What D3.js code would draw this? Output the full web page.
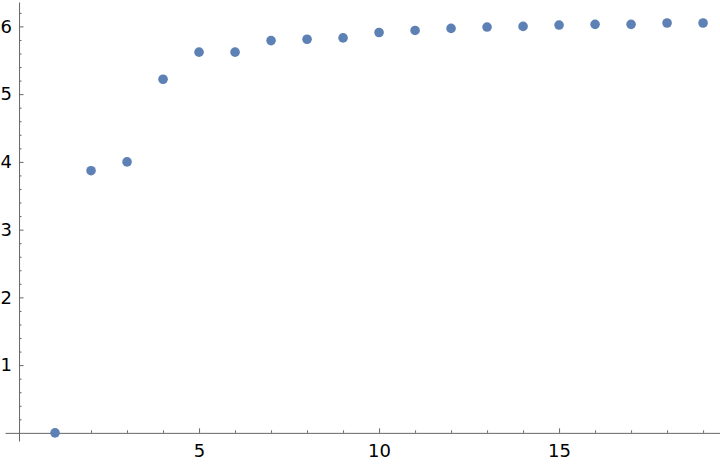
<!DOCTYPE html>
<html>
<head>
<meta charset="utf-8">
<script src="https://d3js.org/d3.v7.min.js"></script>
<style>
  body { margin: 0; background: #fff; }
  .axis text { font-family: "DejaVu Sans", sans-serif; font-size: 18px; fill: #000; }
  .axis path, .axis line { stroke: #666; stroke-width: 1; }
</style>
</head>
<body>
<div id="chart"></div>
<script>
// Data
const xValues = [1, 2, 3, 4, 5, 6, 7, 8, 9, 10, 11, 12, 13, 14, 15, 16, 17, 18, 19]
const yValues = [0, 3.87, 4.00, 5.22, 5.62, 5.62, 5.79, 5.81, 5.83, 5.91, 5.94, 5.97, 5.99, 6.00, 6.02, 6.03, 6.03, 6.05, 6.05]
const xTicks = [5, 10, 15]
const yTicks = [1, 2, 3, 4, 5, 6]

const w = 720
const h = 464

const svg = d3.select("#chart")
    .append("svg")
    .attr("width", w)
    .attr("height", h)

// Scales
const xScale = d3.scaleLinear()
    .domain([-0.39, 19.47])
    .range([5, 720])
const yScale = d3.scaleLinear()
    .domain([-0.12, 6.36])
    .range([441, 2])

// Minor ticks
const xMinor = d3.range(1, 20).filter(d => d % 5 !== 0)
const yMinor = d3.range(1, 32).map(d => d / 5).filter(d => Math.abs(d - Math.round(d)) > 1e-6)

svg.append("g")
    .attr("class", "axis")
    .attr("transform", "translate(0," + yScale(0) + ")")
    .call(d3.axisBottom(xScale).tickValues(xMinor).tickSize(-2.5).tickFormat(""))
    .call(g => g.select(".domain").remove())

svg.append("g")
    .attr("class", "axis")
    .attr("transform", "translate(" + xScale(0) + ",0)")
    .call(d3.axisLeft(yScale).tickValues(yMinor).tickSize(-2.5).tickFormat(""))
    .call(g => g.select(".domain").remove())

// Major axes
svg.append("g")
    .attr("class", "axis")
    .attr("transform", "translate(0," + yScale(0) + ")")
    .call(d3.axisBottom(xScale).tickValues(xTicks).tickFormat(d3.format("d"))
        .tickSizeInner(-4.5).tickSizeOuter(0).tickPadding(11))

svg.append("g")
    .attr("class", "axis")
    .attr("transform", "translate(" + xScale(0) + ",0)")
    .call(d3.axisLeft(yScale).tickValues(yTicks).tickFormat(d3.format("d"))
        .tickSizeInner(-4.5).tickSizeOuter(0).tickPadding(7))

// Points
svg.selectAll("circle")
    .data(xValues)
    .enter()
    .append("circle")
    .attr("cx", d => xScale(d))
    .attr("cy", (d, i) => yScale(yValues[i]))
    .attr("r", 4.8)
    .attr("fill", "#5e81b5")
</script>
</body>
</html>
